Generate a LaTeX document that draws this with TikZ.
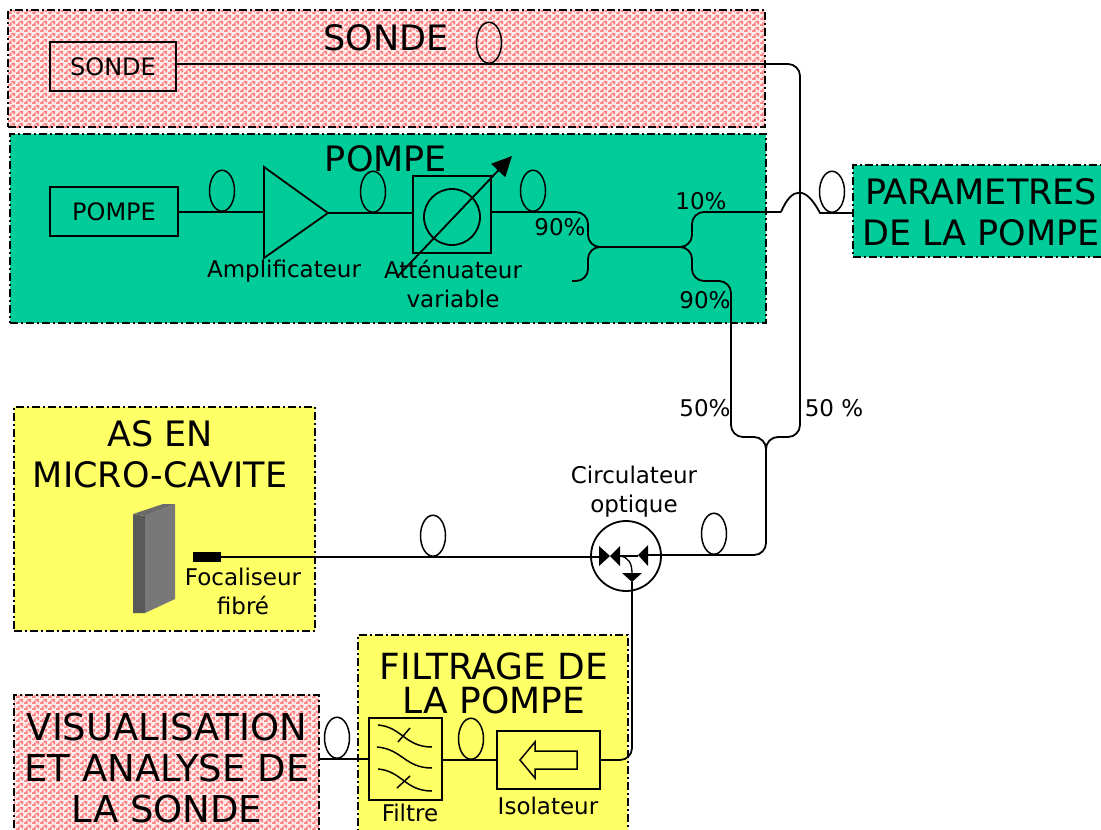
\documentclass[tikz,border=0pt]{standalone}
\usepackage{fontspec}
\setmainfont{DejaVu Sans}
\usepackage{tikz}
\usetikzlibrary{arrows.meta, positioning, shapes.geometric, patterns}
\definecolor{pumpgreen}{RGB}{0,204,153}
\definecolor{panelyellow}{RGB}{255,255,102}
\definecolor{specklered}{RGB}{255,125,125}
\definecolor{specklepale}{RGB}{255,236,236}
\pgfdeclarepatternformonly{speckle}{\pgfpointorigin}{\pgfqpoint{8pt}{6pt}}{\pgfqpoint{8pt}{6pt}}{
  \pgfpathrectangle{\pgfqpoint{0pt}{0pt}}{\pgfqpoint{4pt}{2pt}}
  \pgfpathrectangle{\pgfqpoint{2pt}{2pt}}{\pgfqpoint{2pt}{2pt}}
  \pgfpathrectangle{\pgfqpoint{6pt}{2pt}}{\pgfqpoint{2pt}{2pt}}
  \pgfpathrectangle{\pgfqpoint{4pt}{4pt}}{\pgfqpoint{4pt}{2pt}}
  \pgfusepath{fill}
}
\tikzset{
  panel/.style={draw, line width=1.5pt, dash pattern=on 8pt off 3pt on 2pt off 3pt, inner sep=0pt},
  redpanel/.style={panel, preaction={fill=specklepale}, pattern=speckle, pattern color=specklered},
  greenpanel/.style={panel, fill=pumpgreen},
  yellowpanel/.style={panel, fill=panelyellow},
  devicebox/.style={draw, line width=1.8pt, inner sep=0pt},
  fibre/.style={line width=1.8pt, rounded corners=12pt},
  fibreloop/.style={draw, ellipse, line width=1.5pt, minimum width=25pt, minimum height=41pt, inner sep=0pt, anchor=south},
  bigtext/.style={font=\fontsize{35}{41}\selectfont, align=center},
  boxtext/.style={font=\fontsize{24}{28}\selectfont, align=center},
  smalltext/.style={font=\fontsize{23}{29}\selectfont, align=center},
}
\begin{document}
\begin{tikzpicture}[x=1pt, y=-1pt]
  \clip (0,0) rectangle (1101,830);

  % Panels
  \node[redpanel, minimum width=757pt, minimum height=117pt] (sondepanel) at (386.5,68.5) {};
  \node[greenpanel, minimum width=756pt, minimum height=189pt] (pompepanel) at (388,228.5) {};
  \node[greenpanel, minimum width=260pt, minimum height=92pt] (parampanel) at (983,211) {};
  \node[yellowpanel, minimum width=301pt, minimum height=224pt] (cavitepanel) at (164.5,519) {};
  \node[yellowpanel, minimum width=270pt, minimum height=205pt] (filtragepanel) at (493,737.5) {};
  \node[redpanel, minimum width=305pt, minimum height=145pt] (visupanel) at (166.5,767.5) {};

  % Panel titles
  \node[bigtext] (sondetitle) at (386,38) {SONDE};
  \node[bigtext] (pompetitle) at (386,159) {POMPE};
  \node[bigtext] (paramtitle) at (981,212) {PARAMETRES\\DE LA POMPE};
  \node[bigtext] (cavitetitle) at (160,454) {AS EN\\MICRO-CAVITE};
  \node[bigtext, font=\fontsize{36}{34}\selectfont] (filtragetitle) at (494,683) {FILTRAGE DE\\LA POMPE};
  \node[bigtext, font=\fontsize{37}{41}\selectfont] (visutitle) at (167,768) {VISUALISATION\\ET ANALYSE DE\\LA SONDE};

  % Devices
  \node[devicebox, boxtext, minimum width=126pt, minimum height=49pt] (sondebox) at (113,66.5) {SONDE};
  \node[devicebox, boxtext, minimum width=128pt, minimum height=49pt] (pompebox) at (114,211.5) {POMPE};
  \node[devicebox, minimum width=78pt, minimum height=77pt] (attenbox) at (452,214.5) {};
  \node[draw, circle, line width=1.8pt, minimum size=56pt, inner sep=0pt] (attencircle) at (452,217) {};
  \node[devicebox, minimum width=73pt, minimum height=82pt] (filtrebox) at (405.5,759) {};
  \node[devicebox, minimum width=103pt, minimum height=58pt] (isolbox) at (548.5,760) {};
  \node[draw, circle, line width=1.8pt, minimum size=70pt, inner sep=0pt] (circbox) at (626,556) {};
  \node[fill=black, minimum width=28pt, minimum height=10pt, inner sep=0pt] (focal) at (207,557) {};

  % Amplifier
  \coordinate (ampliin) at (264,212);
  \coordinate (amplitip) at (328,213);
  \draw[line width=1.8pt] (264,167) -- (264,258) -- (amplitip) -- cycle;

  % Variable attenuator arrow
  \coordinate (attenfoot) at (397,277);
  \coordinate (attenhead) at (512,156);
  \draw[line width=1.8pt, -{Triangle[length=20pt, width=19pt]}] (attenfoot) -- (attenhead);

  % Isolator arrow
  \draw[line width=1.5pt] (520,760) -- (535,742) -- (535,751) -- (577,751) -- (577,769) -- (535,769) -- (535,778) -- cycle;

  % Filter channels
  \draw[line width=1.5pt] (378,725) .. controls (402,727) and (405,747) .. (432,747);
  \draw[line width=1.5pt] (377,747) .. controls (402,749) and (405,768) .. (432,768);
  \draw[line width=1.5pt] (378,769) .. controls (402,771) and (405,791) .. (432,791);
  \draw[line width=1.5pt] (398,742) -- (410,728);
  \draw[line width=1.5pt] (397,788) -- (410,776);

  % Micro-cavity block
  \fill[black!65] (133,514) -- (145,516) -- (145,613) -- (133,613) -- cycle;
  \fill[black!53] (145,516) -- (175,504) -- (175,599) -- (145,613) -- cycle;
  \fill[black!58] (133,514) -- (145,516) -- (175,504) -- (163,504) -- cycle;

  % Circulator
  \coordinate (circleft) at (599,557);
  \coordinate (circright) at (648,555);
  \coordinate (circdown) at (632,582);
  \fill (599,546) -- (610,556) -- (599,566) -- cycle;
  \fill (620,546) -- (610,556) -- (620,566) -- cycle;
  \fill (648,545) -- (638,555) -- (648,566) -- cycle;
  \fill (622,573) -- (642,573) -- (632,582) -- cycle;
  \draw[line width=1.3pt] (620,556) -- (638,556);
  \draw[line width=1.3pt] (620,556) .. controls (628,557) and (632,563) .. (632,573);

  % Fibres
  \coordinate (sondeout) at (sondebox.east |- 0,64);
  \coordinate (pompeout) at (pompebox.east |- ampliin);
  \coordinate (split) at (766,437);
  \coordinate (stem) at (766,452);
  \draw[fibre] (sondeout) -- (800,64) -- (800,437) -- (split) -- (stem);
  \draw[fibre] (stem) -- (766,555) -- (circright);
  \draw[fibre] (focal.east) -- (circleft);
  \draw[fibre] (circdown) -- (632,760) -- (isolbox.east);
  \draw[fibre] (isolbox.west) -- (filtrebox.east |- isolbox.west);
  \draw[fibre] (filtrebox.west) -- (visupanel.east |- filtrebox.west);
  \draw[fibre] (pompeout) -- (ampliin);
  \draw[fibre] (amplitip) -- (attenbox.west |- amplitip);

  % Couplers
  \coordinate (coupleA) at (603,247);
  \coordinate (coupleB) at (680,247);
  \draw[fibre] (attenbox.east |- 0,212) -- (588,212) -- (588,247) -- (coupleA);
  \draw[fibre] (coupleA) -- (588,247) -- (588,281) -- (572,281);
  \draw[fibre] (coupleA) -- (coupleB);
  \draw[fibre] (coupleB) -- (692,247) -- (692,212) -- (781,212);
  \draw[fibre] (coupleB) -- (692,247) -- (692,281) -- (731,281) -- (731,437) -- (split) -- (stem);
  \draw[fibre, rounded corners=0pt] (781,212) .. controls (792,186) and (806,186) .. (820,213) -- (parampanel.west |- 0,213);

  % Fibre loops
  \node[fibreloop] (loopsonde) at (489,64) {};
  \node[fibreloop] (looppompe) at (222,212) {};
  \node[fibreloop] (loopampli) at (373,213) {};
  \node[fibreloop] (loopatten) at (533,212) {};
  \node[fibreloop] (loopparam) at (832,213) {};
  \node[fibreloop] (loopcavite) at (433,557) {};
  \node[fibreloop] (loopcirc) at (714,555) {};
  \node[fibreloop] (loopfiltre) at (471,760) {};
  \node[fibreloop] (loopvisu) at (337,759) {};

  % Labels
  \node[smalltext] (amplilabel) at (284,271) {Amplificateur};
  \node[smalltext] (attenlabel) at (453,284) {Atténuateur\\variable};
  \node[smalltext] (circlabel) at (634,492) {Circulateur\\optique};
  \node[smalltext] (focallabel) at (243,591.5) {Focaliseur\\fibré};
  \node[smalltext] (filtrelabel) at (410,813) {Filtre};
  \node[smalltext] (isollabel) at (548,806) {Isolateur};
  \node[smalltext] (pcta) at (560,227) {90\%};
  \node[smalltext] (pctb) at (701,201) {10\%};
  \node[smalltext] (pctc) at (705,300) {90\%};
  \node[smalltext] (pctd) at (705,408) {50\%};
  \node[smalltext] (pcte) at (834,408) {50 \%};
\end{tikzpicture}
\end{document}
